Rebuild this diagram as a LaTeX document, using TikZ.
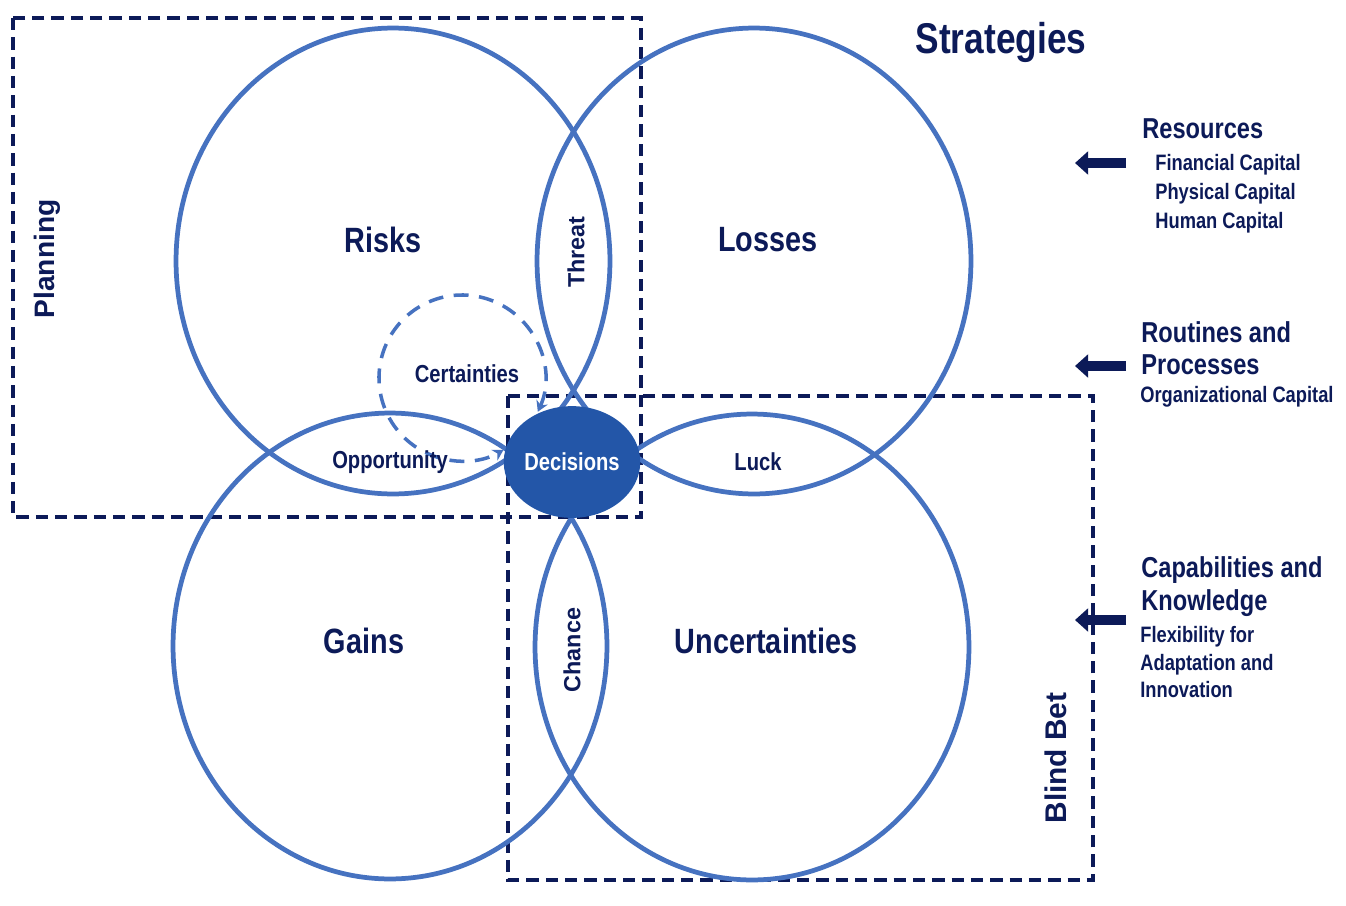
\documentclass[tikz,border=0pt]{standalone}
\usepackage{fontspec}
\setmainfont{Liberation Sans}
\newfontfamily\narrowfont{Liberation Sans}[FakeStretch=0.82]
\usepackage{tikz}
\usetikzlibrary{shapes.geometric,arrows.meta,positioning}
\definecolor{navy}{RGB}{12,26,88}
\definecolor{ringblue}{RGB}{70,114,192}
\definecolor{decblue}{RGB}{35,86,168}
\tikzstyle{ring} = [ ellipse, draw = ringblue, line width = 2.7pt, %
                     inner sep = 0pt, minimum width = 8.68cm, %
                     minimum height = 9.32cm ]
\tikzstyle{frame} = [ draw = navy, line width = 2.1pt, %
                      dash pattern = on 7pt off 4pt ]
\tikzstyle{certline} = [ draw = ringblue, line width = 2pt, %
                         dash pattern = on 8.5pt off 6pt, %
                         {Stealth[length=6pt,width=7pt]}-{Stealth[length=6pt,width=7pt]} ]
\tikzstyle{arrow} = [ navy, line width = 6.2pt, %
                      -{Triangle[length=7.5pt,width=13pt]} ]
\tikzstyle{big}   = [ text = navy, font = \narrowfont\bfseries\fontsize{20}{24}\selectfont ]
\tikzstyle{head}  = [ text = navy, inner sep = 0pt, anchor = base west, %
                      font = \narrowfont\bfseries\fontsize{16.4}{20}\selectfont ]
\tikzstyle{item}  = [ text = navy, inner sep = 0pt, anchor = base west, %
                      font = \narrowfont\bfseries\fontsize{12.7}{16}\selectfont ]
\tikzstyle{lens}  = [ text = navy, font = \narrowfont\bfseries\fontsize{14}{17}\selectfont ]
\tikzstyle{side}  = [ text = navy, font = \bfseries\fontsize{13.3}{16}\selectfont, rotate = 90 ]

\begin{document}
\begin{tikzpicture}[x=0.02cm, y=-0.02cm]
      \useasboundingbox (0,0) rectangle (1346,906);
      % Frames
      \draw [frame] (13,18) rectangle (641,517);
      \draw [frame] (508,396) rectangle (1093,880);
      % Rings
      \node (risks)  [ring] at (393,261) {};
      \node (losses) [ring] at (754,261) {};
      \node (gains)  [ring] at (390,646) {};
      \node (uncert) [ring] at (752,647) {};
      % Certainties loop
      \coordinate (certc) at (462,378);
      \draw [certline] (certc) ++(24:83) %
        arc [start angle=24, end angle=-300, radius=83];
      % Decisions
      \node (decisions) [ellipse, fill = decblue, draw = decblue, %
        line width = 1pt, inner sep = 0pt, minimum width = 2.55cm, %
        minimum height = 2.2cm, text = white, %
        font = \narrowfont\bfseries\fontsize{14}{17}\selectfont] %
        at (572,462) {Decisions};
      % Labels
      \node (risksLbl)  [big] at (383,240) {Risks};
      \node (lossesLbl) [big] at (768,240) {Losses};
      \node (gainsLbl)  [big] at (364,641) {Gains};
      \node (uncertLbl) [big] at (766,641) {Uncertainties};
      \node (threat)    [side] at (576,252) {Threat};
      \node (chance)    [side] at (572,650) {Chance};
      \node (opport)    [lens] at (390,462) {Opportunity};
      \node (luck)      [lens] at (758,462) {Luck};
      \node (certLbl)   [lens] at (467,374) {Certainties};
      \node (planning)  [side, font = \bfseries\fontsize{16}{19}\selectfont] %
        at (47,259) {Planning};
      \node (blindbet)  [side, font = \bfseries\fontsize{17}{20}\selectfont] %
        at (1056,758) {Blind Bet};
      \node (strategies) [big, font = \narrowfont\bfseries\fontsize{24.5}{29}\selectfont] %
        at (1001,42) {Strategies};
      % Strategy column
      \node (resTitle) [head] at (1142,138) {Resources};
      \node (resFin)   [item] at (1155,170) {Financial Capital};
      \node (resPhy)   [item] at (1155,199) {Physical Capital};
      \node (resHum)   [item] at (1155,228) {Human Capital};
      \node (rouTitle) [head] at (1141,342) {Routines and};
      \node (rouProc)  [head] at (1141,374) {Processes};
      \node (rouOrg)   [item] at (1140,402) {Organizational Capital};
      \node (capTitle) [head] at (1141,577) {Capabilities and};
      \node (capKnow)  [head] at (1141,610) {Knowledge};
      \node (capFlex)  [item] at (1140,642) {Flexibility for};
      \node (capAdap)  [item] at (1140,670) {Adaptation and};
      \node (capInno)  [item] at (1140,697) {Innovation};
      % Arrows
      \coordinate (resTail) at (1126,163);
      \coordinate (resHead) at (1075,163);
      \coordinate (rouTail) at (1126,366);
      \coordinate (rouHead) at (1075,366);
      \coordinate (capTail) at (1126,620);
      \coordinate (capHead) at (1075,620);
      \draw [arrow] (resTail) -- (resHead);
      \draw [arrow] (rouTail) -- (rouHead);
      \draw [arrow] (capTail) -- (capHead);
    \end{tikzpicture}
\end{document}
